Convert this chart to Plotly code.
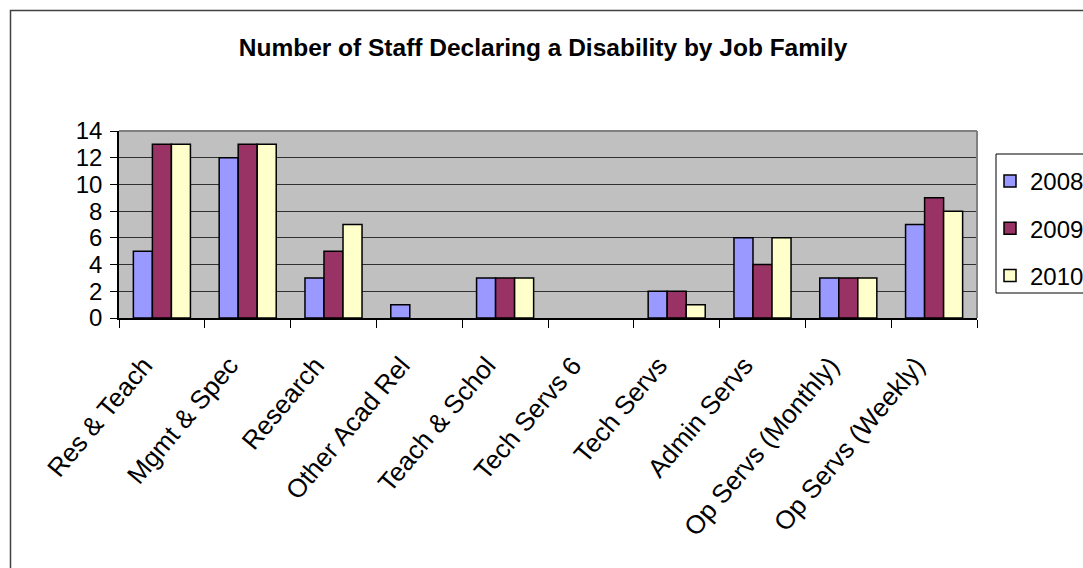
import plotly.graph_objects as go

# Job families on the x axis
categories = ["Res & Teach", "Mgmt & Spec", "Research", "Other Acad Rel", "Teach & Schol",
              "Tech Servs 6", "Tech Servs", "Admin Servs", "Op Servs (Monthly)", "Op Servs (Weekly)"]

# Staff declaring a disability, per year
staff_2008 = [5, 12, 3, 1, 3, 0, 2, 6, 3, 7]
staff_2009 = [13, 13, 5, 0, 3, 0, 2, 4, 3, 9]
staff_2010 = [13, 13, 7, 0, 3, 0, 1, 6, 3, 8]

y_ticks = [0, 2, 4, 6, 8, 10, 12, 14]

series = [
    ("2008", staff_2008, "#9999FF"),
    ("2009", staff_2009, "#993366"),
    ("2010", staff_2010, "#FFFFCC"),
]

W, H = 1083, 568
L, R, T, B = 119, 106, 131, 250
pw, ph = W - L - R, H - T - B

def px_x(p):
    return (p - L) / pw

def px_y(p):
    return (H - B - p) / ph

fig = go.Figure()
for i, (name, vals, color) in enumerate(series):
    fig.add_trace(go.Bar(
        x=categories, y=vals, name=name,
        marker=dict(color=color,
                    line=dict(color="black", width=[0 if v == 0 else 1.5 for v in vals])),
        legendgroup=f"g{i}",
    ))

fig.update_layout(
    width=W, height=H,
    margin=dict(l=L, r=R, t=T, b=B, autoexpand=False),
    paper_bgcolor="white",
    plot_bgcolor="#C0C0C0",
    barmode="group",
    bargap=0.335,
    bargroupgap=0,
    font=dict(family="Liberation Sans, Arial, sans-serif", color="black"),
    title=dict(
        text="<b>Number of Staff Declaring a Disability by Job Family</b>",
        x=px_x(543), xref="paper", xanchor="center",
        y=1 - 47 / H, yanchor="middle",
        font=dict(size=24.5, color="black"),
    ),
    showlegend=True,
    legend=dict(
        x=px_x(990), y=px_y(159), xanchor="left", yanchor="top",
        borderwidth=0, bgcolor="rgba(0,0,0,0)",
        font=dict(size=24, color="black"),
        tracegroupgap=13,
    ),
    xaxis=dict(
        type="category",
        tickangle=-50,
        tickson="boundaries",
        ticks="outside", ticklen=8, tickcolor="black", tickwidth=1,
        showline=True, linecolor="black", linewidth=1.5,
        showgrid=False,
        tickfont=dict(size=26, color="black"),
        ticklabelstandoff=20,
        ticklabelshift=-18,
        range=[-0.5, len(categories) - 0.5],
    ),
    yaxis=dict(
        range=[0, 14],
        tickvals=y_ticks,
        ticks="outside", ticklen=7, tickcolor="black", tickwidth=1,
        showline=True, linecolor="black", linewidth=1.5,
        showgrid=True, gridcolor="#303030", gridwidth=1,
        zeroline=False,
        tickfont=dict(size=24, color="black"),
        ticklabelstandoff=3,
    ),
    shapes=[
        # plot area frame (top and right edges)
        dict(type="line", xref="paper", yref="paper", x0=0, x1=1, y0=1, y1=1,
             line=dict(color="#808080", width=2)),
        dict(type="line", xref="paper", yref="paper", x0=1, x1=1, y0=0, y1=1,
             line=dict(color="#808080", width=2)),
        # legend frame
        dict(type="rect", xref="paper", yref="paper",
             x0=px_x(996), x1=px_x(1120), y0=px_y(293), y1=px_y(154),
             line=dict(color="black", width=1), fillcolor="white", layer="below"),
        # outer chart border
        dict(type="rect", xref="paper", yref="paper",
             x0=px_x(10.5), x1=px_x(1200), y0=px_y(700), y1=px_y(10.5),
             line=dict(color="#404040", width=1.5)),
    ],
)

fig.write_html("out.html")
